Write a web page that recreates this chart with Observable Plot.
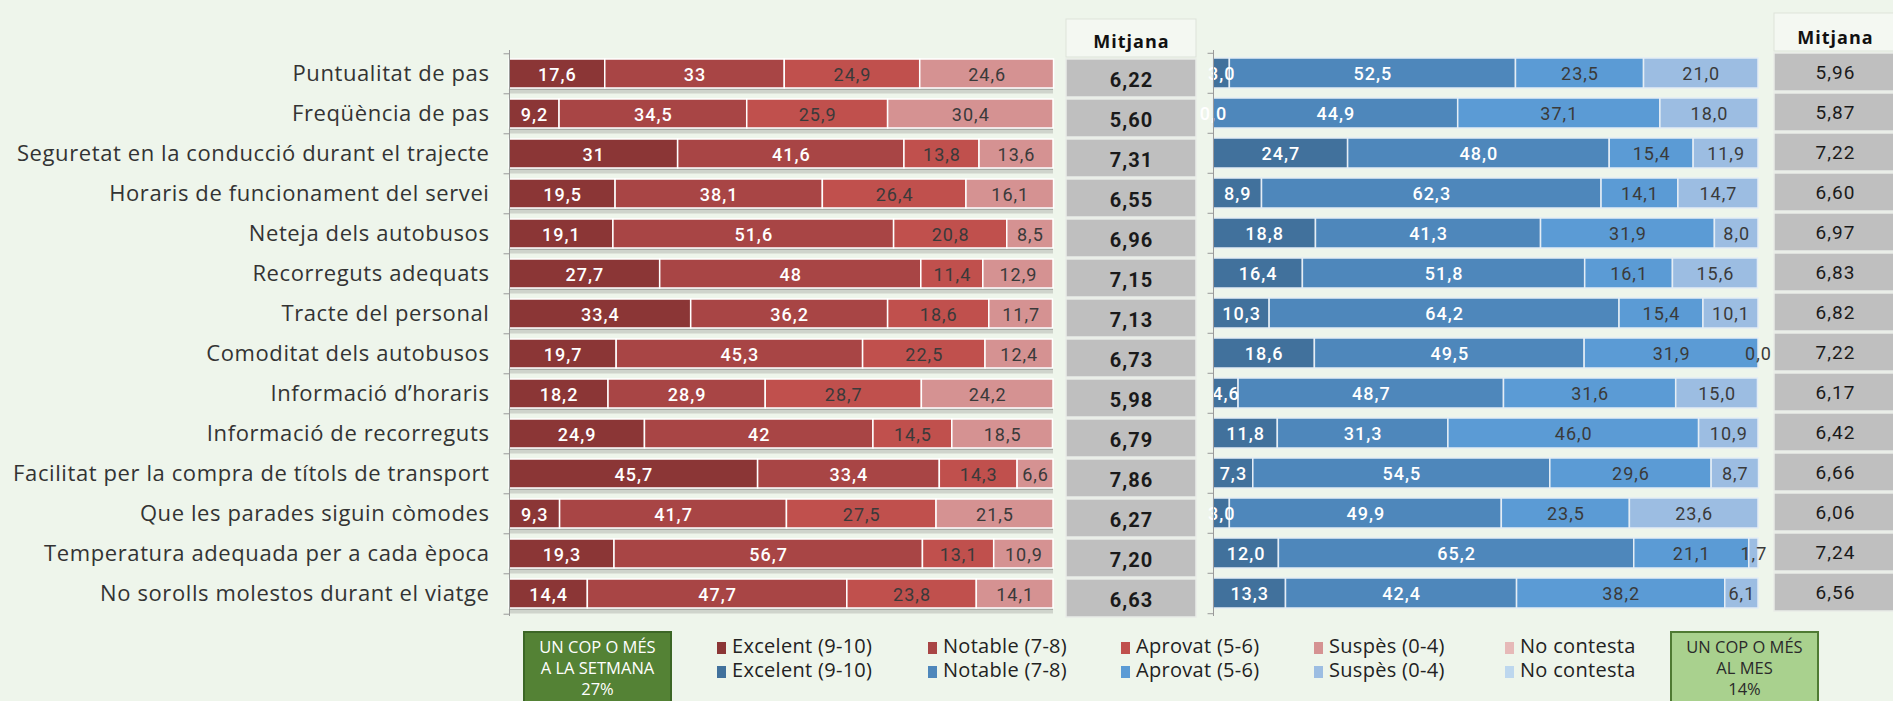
<!DOCTYPE html>
<html><head><meta charset="utf-8">
<script src="https://cdn.jsdelivr.net/npm/d3@7"></script>
<script src="https://cdn.jsdelivr.net/npm/@observablehq/plot@0.6"></script>
<style>
body{margin:0;background:#eef5eb;}
#root{position:relative;width:1893px;height:701px;overflow:hidden;background:#eef5eb;font-family:"Open Sans",sans-serif;color:#333;}
#root svg{position:absolute;top:0;overflow:visible;}
#root g[aria-label="text"] text{letter-spacing:1px;}
#root g[aria-label="y-axis tick label"] text{letter-spacing:0.6px;}
.leg{position:absolute;font-size:20px;line-height:24px;white-space:nowrap;color:#222;letter-spacing:0.3px;}
.sw{display:inline-block;width:9px;height:12px;margin-right:6px;vertical-align:-1px;}
.box{position:absolute;top:631px;width:149px;height:80px;text-align:center;font-size:16.5px;line-height:21px;padding-top:3px;box-sizing:border-box;}
</style></head><body><div id="root"></div><script>
const categories = ["Puntualitat de pas","Freqüència de pas","Seguretat en la conducció durant el trajecte","Horaris de funcionament del servei","Neteja dels autobusos","Recorreguts adequats","Tracte del personal","Comoditat dels autobusos","Informació d’horaris","Informació de recorreguts","Facilitat per la compra de títols de transport","Que les parades siguin còmodes","Temperatura adequada per a cada època","No sorolls molestos durant el viatge"];
const levels = ["Excelent (9-10)","Notable (7-8)","Aprovat (5-6)","Suspès (0-4)","No contesta"];

// Un cop o més a la setmana (27%)
const weeklyExcelent = [17.6,9.2,31,19.5,19.1,27.7,33.4,19.7,18.2,24.9,45.7,9.3,19.3,14.4];
const weeklyNotable  = [33,34.5,41.6,38.1,51.6,48,36.2,45.3,28.9,42,33.4,41.7,56.7,47.7];
const weeklyAprovat  = [24.9,25.9,13.8,26.4,20.8,11.4,18.6,22.5,28.7,14.5,14.3,27.5,13.1,23.8];
const weeklySuspes   = [24.6,30.4,13.6,16.1,8.5,12.9,11.7,12.4,24.2,18.5,6.6,21.5,10.9,14.1];
const weeklyMitjana  = [6.22,5.60,7.31,6.55,6.96,7.15,7.13,6.73,5.98,6.79,7.86,6.27,7.20,6.63];

// Un cop o més al mes (14%)
const monthlyExcelent = [3.0,0.0,24.7,8.9,18.8,16.4,10.3,18.6,4.6,11.8,7.3,3.0,12.0,13.3];
const monthlyNotable  = [52.5,44.9,48.0,62.3,41.3,51.8,64.2,49.5,48.7,31.3,54.5,49.9,65.2,42.4];
const monthlyAprovat  = [23.5,37.1,15.4,14.1,31.9,16.1,15.4,31.9,31.6,46.0,29.6,23.5,21.1,38.2];
const monthlySuspes   = [21.0,18.0,11.9,14.7,8.0,15.6,10.1,0.0,15.0,10.9,8.7,23.6,1.7,6.1];
const monthlyMitjana  = [5.96,5.87,7.22,6.60,6.97,6.83,6.82,7.22,6.17,6.42,6.66,6.06,7.24,6.56];

const redColors  = ["#8b3636","#a84545","#c0504d","#d59292","#e6b9b8"];
const blueColors = ["#41719c","#4e87bb","#5b9bd5","#9cbde2","#bdd7ee"];

const root = document.getElementById("root");

function toRows(series) {
  const rows = [];
  categories.forEach((c, i) => series.forEach((s, j) => rows.push({cat: c, level: levels[j], j, value: s[i]})));
  return rows;
}
const redRows = toRows([weeklyExcelent, weeklyNotable, weeklyAprovat, weeklySuspes]);
const blueRows = toRows([monthlyExcelent, monthlyNotable, monthlyAprovat, monthlySuspes]);

const fmtRed = v => String(v).replace(".", ",");
const fmtBlue = v => v.toFixed(1).replace(".", ",");
const fmt2 = v => v.toFixed(2).replace(".", ",");

const H = 625, MT = 50, MB = 9;
const step = (H - MT - MB) / 14;

function barChart({rows, colors, fmt, left, width, marginLeft, marginRight, pin, showY, shadow, barStroke}) {
  const marks = [];
  if (shadow) {
    marks.push(Plot.barX(categories, {x1: 0, x2: 100, y: d => d, insetBottom: step*(1-pin) - 5, dy: step*(1-pin) + 0.5, fill: "#cfd4cc"}));
    marks.push(Plot.barX(categories, {x1: 0, x2: 100, y: d => d, insetBottom: step*(1-pin) - 2, dy: step*(1-pin), fill: "#a9ada6"}));
  }
  marks.push(Plot.barX(rows, Plot.stackX({x: "value", y: "cat", fill: "level", order: null, stroke: barStroke, strokeWidth: 1.5})));
  marks.push(Plot.text(rows, Plot.stackX({x: "value", y: "cat", z: "level", order: null, text: d => d.j < 2 ? fmt(d.value) : "", fill: "white", fontSize: 18, fontWeight: 500, fontFamily: "Roboto", dy: 1})));
  marks.push(Plot.text(rows, Plot.stackX({x: "value", y: "cat", z: "level", order: null, text: d => d.j >= 2 ? fmt(d.value) : "", fill: "#3a3a3a", fontSize: 18, fontFamily: "Roboto", dy: 1})));
  marks.push(Plot.ruleX([0], {stroke: "#9a9a9a"}));
  marks.push(Plot.ruleY(categories, {y: d => d, x1: -1, x2: 0, dy: -step/2, stroke: "#9a9a9a"}));
  marks.push(Plot.ruleY(categories.slice(-1), {y: d => d, x1: -1, x2: 0, dy: step/2, stroke: "#9a9a9a"}));
  if (showY) marks.push(Plot.axisY({tickSize: 0, tickPadding: 20, fontSize: 22, fill: "#333", fontFamily: "Open Sans"}));
  const svg = Plot.plot({
    width, height: H, marginLeft, marginRight, marginTop: MT, marginBottom: MB,
    x: {domain: [0, 100], axis: null},
    y: {domain: categories, paddingInner: pin, paddingOuter: pin/2, axis: null, label: null},
    color: {domain: levels, range: colors},
    style: {background: "transparent", overflow: "visible", fontFamily: "Open Sans"},
    marks
  });
  svg.style.left = left + "px";
  root.appendChild(svg);
}

function meanColumn({values, left, width, top, bottom, bold, fontSize, headerDy, valueDy}) {
  const rows = categories.map((c, i) => ({cat: c, v: values[i]}));
  const svg = Plot.plot({
    width, height: H, marginLeft: 0, marginRight: 0, marginTop: top, marginBottom: H - bottom,
    x: {domain: ["Mitjana"], axis: null, padding: 0},
    y: {domain: ["Mitjana", ...categories], paddingInner: 0.06, paddingOuter: 0.03, axis: null},
    style: {background: "transparent", overflow: "visible"},
    marks: [
      Plot.cell(["Mitjana"], {x: d => d, y: d => d, fill: "#f4f8f2", stroke: "#dde3da", strokeWidth: 1}),
      Plot.text(["Mitjana"], {x: d => d, y: d => d, text: d => d, fontWeight: "bold", fontSize: 18, fontFamily: "Open Sans", fill: "#111", dy: headerDy}),
      Plot.cell(rows, {x: () => "Mitjana", y: "cat", fill: "#bfbfbf", stroke: "#e9ece8", strokeWidth: 1.5}),
      Plot.text(rows, {x: () => "Mitjana", y: "cat", text: d => fmt2(d.v), fontWeight: bold ? "bold" : "normal", fontSize, fontFamily: "Roboto", fill: "#1a1a1a", dy: valueDy})
    ]
  });
  svg.style.left = left + "px";
  root.appendChild(svg);
}

barChart({rows: redRows, colors: redColors, fmt: fmtRed, left: 0, width: 1060, marginLeft: 509, marginRight: 7, pin: 0.28, showY: true, shadow: true, barStroke: "white"});
meanColumn({values: weeklyMitjana, left: 1066, width: 130, top: 13, bottom: 622, bold: true, fontSize: 20, headerDy: 4, valueDy: 2});
barChart({rows: blueRows, colors: blueColors, fmt: fmtBlue, left: 1200, width: 575, marginLeft: 13, marginRight: 17, pin: 0.24, showY: false, shadow: false, barStroke: "#e4edf5"});
meanColumn({values: monthlyMitjana, left: 1774, width: 122, top: 11, bottom: 612, bold: false, fontSize: 19, headerDy: 6, valueDy: 0});

// legend
const legX = [717, 928, 1121, 1314, 1505];
[[redColors, 634], [blueColors, 658]].forEach(([cols, top]) => {
  levels.forEach((l, i) => {
    const d = document.createElement("div");
    d.className = "leg";
    d.style.left = legX[i] + "px";
    d.style.top = top + "px";
    d.innerHTML = `<span class="sw" style="background:${cols[i]}"></span>${l}`;
    root.appendChild(d);
  });
});
const boxes = [
  {left: 523, bg: "#548235", border: "#3c6626", color: "#fff", lines: ["UN COP O MÉS", "A LA SETMANA", "27%"]},
  {left: 1670, bg: "#a9d18e", border: "#4f7a33", color: "#2a2a2a", lines: ["UN COP O MÉS", "AL MES", "14%"]}
];
boxes.forEach(b => {
  const d = document.createElement("div");
  d.className = "box";
  d.style.left = b.left + "px";
  d.style.background = b.bg;
  d.style.border = `2px solid ${b.border}`;
  d.style.color = b.color;
  d.innerHTML = b.lines.join("<br>");
  root.appendChild(d);
});
</script></body></html>
